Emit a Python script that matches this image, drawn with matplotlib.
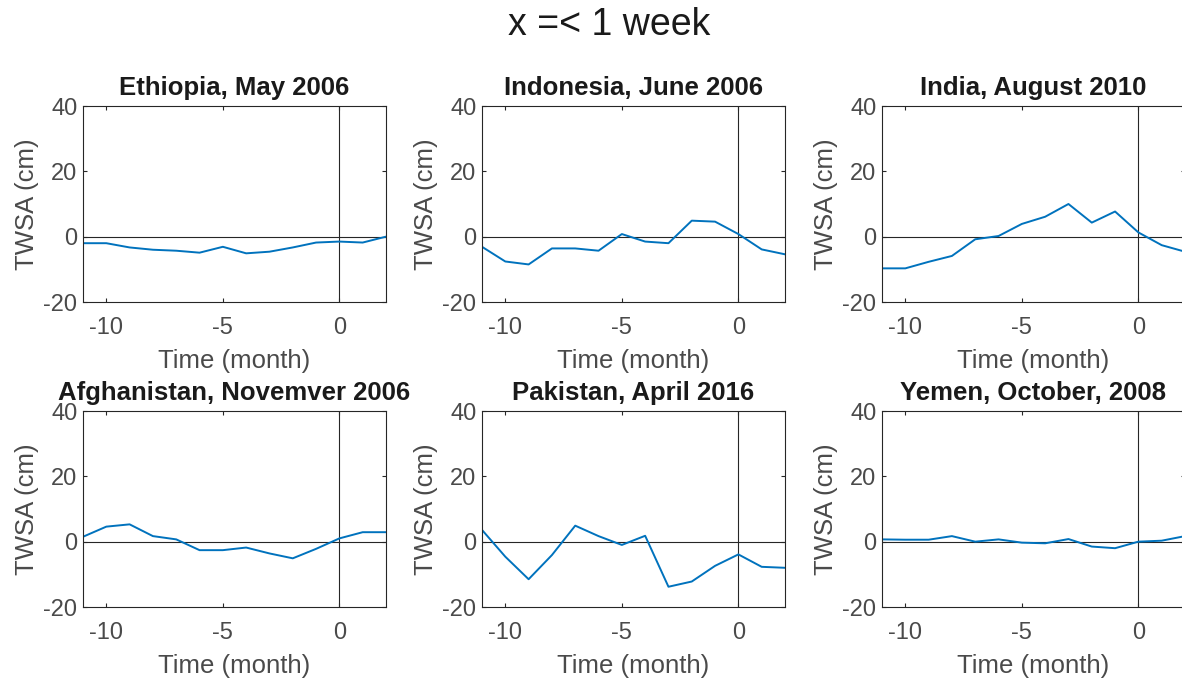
import numpy as np
import matplotlib
matplotlib.use("Agg")
import matplotlib.pyplot as plt

plt.rcParams['font.family'] = ['Liberation Sans', 'DejaVu Sans']
plt.rcParams['axes.unicode_minus'] = False

# months relative to the event
months = np.arange(-11, 3)

titles = ["Ethiopia, May 2006", "Indonesia, June 2006", "India, August 2010",
          "Afghanistan, Novemver 2006", "Pakistan, April 2016", "Yemen, October, 2008"]

ethiopia = [-2.0, -2.0, -3.3, -4.0, -4.3, -4.9, -3.1, -5.1, -4.6, -3.3, -1.8, -1.5, -1.8, 0.0]
indonesia = [-3.1, -7.6, -8.5, -3.6, -3.6, -4.3, 0.8, -1.5, -2.0, 4.9, 4.6, 0.8, -3.9, -5.4]
india = [-9.7, -9.7, -7.7, -5.9, -0.8, 0.2, 3.9, 6.1, 10.0, 4.3, 7.7, 1.3, -2.6, -4.6]
afghanistan = [1.5, 4.6, 5.3, 1.7, 0.7, -2.6, -2.6, -1.8, -3.6, -5.1, -2.2, 1.0, 2.9, 2.9]
pakistan = [3.6, -4.6, -11.5, -4.1, 4.9, 1.7, -1.0, 1.8, -13.8, -12.2, -7.4, -3.9, -7.7, -8.0]
yemen = [0.7, 0.6, 0.6, 1.7, 0.0, 0.7, -0.3, -0.5, 0.8, -1.5, -2.0, 0.0, 0.3, 1.7]

series = [ethiopia, indonesia, india, afghanistan, pakistan, yemen]

fig = plt.figure(figsize=(11.82, 6.82), dpi=100)
fig.patch.set_facecolor('white')

lefts = [83 / 1182, 482 / 1182, 882 / 1182]
bottoms = [(682 - 302) / 682, (682 - 607) / 682]
w, h = 303 / 1182, 196 / 682
grey = '#4a4a4a'

for k, (ttl, vals) in enumerate(zip(titles, series)):
    ax = fig.add_axes([lefts[k % 3], bottoms[k // 3], w, h])
    ax.axhline(0, color='#262626', lw=0.8, zorder=1)
    ax.axvline(0, color='#262626', lw=0.8, zorder=1)
    ax.plot(months, vals, color='#0072BD', lw=1.4, zorder=2)
    ax.set_xlim(-11, 2)
    ax.set_ylim(-20, 40)
    ax.set_xticks([-10, -5, 0])
    ax.set_yticks([-20, 0, 20, 40])
    ax.tick_params(direction='in', top=True, right=True, length=3, width=0.8,
                   labelsize=17, labelcolor=grey, color='#262626')
    ax.tick_params(axis='x', pad=11)
    ax.tick_params(axis='y', pad=4)
    for s in ax.spines.values():
        s.set_color('#262626')
        s.set_linewidth(0.8)
    ax.set_title(ttl, fontsize=18.5, fontweight='bold', color='#1a1a1a', pad=8)
    ax.set_xlabel('Time (month)', fontsize=18.5, color=grey, labelpad=7)
    ax.set_ylabel('TWSA (cm)', fontsize=18.5, color=grey, labelpad=3)

fig.suptitle('x =< 1 week', fontsize=27, color='#1a1a1a', x=0.515, y=0.99)

fig.savefig('out.png', dpi=100)
